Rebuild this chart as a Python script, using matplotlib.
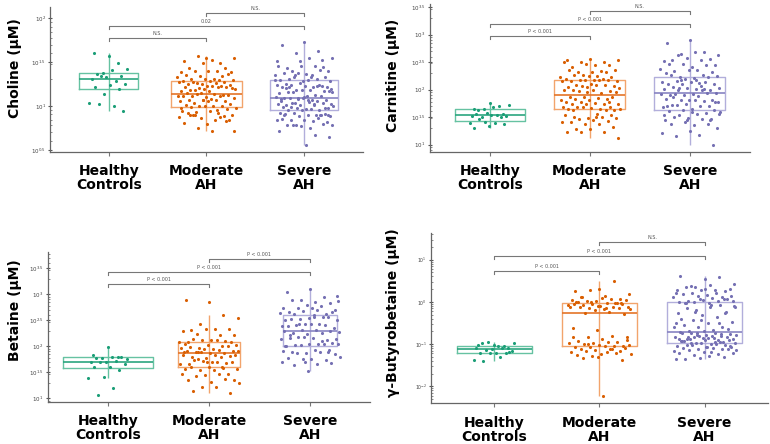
import matplotlib
matplotlib.use("Agg")
import matplotlib.pyplot as plt
import matplotlib.ticker as mticker
from matplotlib import cbook
import numpy as np

# ---- data (log10 of concentration in uM) ----
groups = ["Healthy\nControls", "Moderate\nAH", "Severe\nAH"]

choline_healthy = [1.572, 1.602, 1.489, 1.371, 1.420, 1.409, 1.367, 1.341, 1.330, 1.307, 1.280,
                   1.345, 1.250, 1.242, 1.216, 1.197, 1.133, 1.034, 1.004, 1.019, 0.939]
choline_moderate = [1.545, 1.515, 1.489, 1.564, 1.545, 1.527, 1.432, 1.432, 1.489, 1.383, 1.394,
                    1.394, 1.383, 1.402, 1.356, 1.345, 1.337, 1.326, 1.307, 1.307, 1.367, 1.307,
                    1.280, 1.292, 1.261, 1.299, 1.280, 1.254, 1.273, 1.254, 1.277, 1.261, 1.269,
                    1.242, 1.231, 1.216, 1.231, 1.205, 1.193, 1.223, 1.186, 1.216, 1.193, 1.174,
                    1.216, 1.186, 1.205, 1.167, 1.148, 1.129, 1.148, 1.117, 1.140, 1.110, 1.129,
                    1.102, 1.110, 1.117, 1.140, 1.091, 1.080, 1.072, 1.053, 1.072, 1.053, 1.072,
                    1.034, 1.027, 1.053, 1.015, 0.996, 1.004, 0.977, 1.004, 0.989, 0.966, 1.004,
                    0.939, 0.920, 0.928, 0.902, 0.939, 0.920, 0.883, 0.864, 0.875, 0.845, 0.902,
                    0.845, 0.799, 0.807, 0.875, 0.750, 0.712, 0.712, 0.902, 0.826, 1.072, 0.977,
                    0.958, 0.902]
choline_severe = [1.723, 1.697, 1.621, 1.602, 1.545, 1.545, 1.432, 1.439, 1.451, 1.451, 1.451,
                  1.394, 1.394, 1.367, 1.375, 1.405, 1.375, 1.356, 1.330, 1.307, 1.330, 1.280,
                  1.299, 1.307, 1.330, 1.280, 1.299, 1.254, 1.231, 1.261, 1.242, 1.216, 1.242,
                  1.216, 1.231, 1.216, 1.242, 1.186, 1.155, 1.178, 1.155, 1.167, 1.186, 1.148,
                  1.129, 1.155, 1.167, 1.110, 1.091, 1.110, 1.080, 1.102, 1.072, 1.091, 1.072,
                  1.102, 1.080, 1.053, 1.034, 1.027, 1.042, 1.015, 1.034, 1.011, 1.027, 1.015,
                  1.034, 0.977, 0.966, 0.989, 0.958, 0.977, 0.996, 0.966, 0.951, 0.977, 0.958,
                  0.920, 0.902, 0.920, 0.883, 0.902, 0.913, 0.902, 0.883, 0.845, 0.826, 0.845,
                  0.814, 0.837, 0.852, 0.864, 0.788, 0.777, 0.750, 0.788, 0.799, 0.769, 0.712,
                  0.674, 0.788, 0.648, 0.553, 0.902, 0.902, 1.091, 1.299, 1.356, 1.216, 0.913,
                  1.091, 1.053, 1.223, 1.356, 1.193, 1.072, 1.205, 1.527, 1.508, 1.508, 1.027,
                  0.989, 0.902]

carnitine_healthy = [1.764, 1.655, 1.697, 1.655, 1.715, 1.685, 1.624, 1.564, 1.576, 1.515, 1.539,
                     1.503, 1.521, 1.545, 1.564, 1.503, 1.412, 1.400, 1.400, 1.461, 1.370, 1.333,
                     1.309]
carnitine_moderate = [2.564, 2.533, 2.503, 2.503, 2.533, 2.442, 2.412, 2.442, 2.473, 2.503, 2.333,
                      2.321, 2.352, 2.321, 2.352, 2.321, 2.261, 2.230, 2.242, 2.261, 2.230, 2.242,
                      2.200, 2.200, 2.170, 2.158, 2.170, 2.158, 2.182, 2.170, 2.152, 2.170, 2.079,
                      2.061, 2.097, 2.048, 2.079, 2.061, 2.036, 2.079, 1.988, 1.976, 1.958, 1.988,
                      1.939, 1.976, 1.958, 1.988, 1.867, 1.836, 1.867, 1.818, 1.855, 1.836, 1.867,
                      1.806, 1.776, 1.745, 1.776, 1.733, 1.758, 1.745, 1.776, 1.733, 1.685, 1.655,
                      1.685, 1.636, 1.673, 1.655, 1.624, 1.685, 1.655, 1.564, 1.503, 1.533, 1.491,
                      1.533, 1.503, 1.473, 1.491, 1.442, 1.412, 1.430, 1.382, 1.412, 1.370, 1.291,
                      1.321, 1.291, 1.230, 1.230, 1.230, 1.127, 1.503, 1.624, 1.685, 2.048]
carnitine_severe = [2.897, 2.848, 2.685, 2.642, 2.624, 2.685, 2.533, 2.564, 2.582, 2.521, 2.533,
                    2.624, 2.442, 2.412, 2.461, 2.442, 2.473, 2.382, 2.352, 2.339, 2.321, 2.352,
                    2.303, 2.261, 2.230, 2.242, 2.218, 2.261, 2.230, 2.200, 2.139, 2.121, 2.158,
                    2.109, 2.139, 2.097, 2.139, 2.109, 2.036, 2.018, 2.048, 2.000, 2.036, 2.018,
                    1.988, 2.036, 1.939, 1.915, 1.897, 1.939, 1.897, 1.927, 1.879, 1.915, 1.818,
                    1.806, 1.836, 1.794, 1.818, 1.776, 1.806, 1.715, 1.697, 1.733, 1.685, 1.697,
                    1.715, 1.624, 1.594, 1.612, 1.576, 1.624, 1.594, 1.564, 1.503, 1.473, 1.491,
                    1.442, 1.473, 1.533, 1.309, 1.352, 1.382, 1.370, 1.412, 1.212, 1.170, 1.152,
                    0.988, 1.248, 1.697, 2.018, 2.170, 1.564, 2.170, 1.867, 1.442, 1.442, 1.533,
                    2.061, 1.988, 1.776, 1.655]

betaine_healthy = [1.990, 1.831, 1.799, 1.786, 1.767, 1.799, 1.786, 1.799, 1.703, 1.703, 1.722,
                   1.703, 1.671, 1.607, 1.607, 1.543, 1.415, 1.403, 1.192, 1.064]
betaine_moderate = [2.853, 2.885, 2.597, 2.425, 2.553, 2.342, 2.310, 2.342, 2.342, 2.297, 2.214,
                    2.233, 2.214, 2.118, 2.086, 2.105, 2.131, 2.086, 2.118, 2.150, 2.086, 2.022,
                    2.042, 2.003, 1.978, 2.022, 1.958, 1.990, 2.003, 1.958, 1.978, 1.927, 1.895,
                    1.914, 1.875, 1.914, 1.875, 1.895, 1.914, 1.831, 1.799, 1.812, 1.786, 1.831,
                    1.799, 1.767, 1.831, 1.703, 1.671, 1.684, 1.722, 1.671, 1.703, 1.735, 1.703,
                    1.607, 1.575, 1.594, 1.543, 1.575, 1.556, 1.607, 1.479, 1.447, 1.466, 1.479,
                    1.428, 1.351, 1.319, 1.364, 1.383, 1.224, 1.288, 1.224, 1.147, 1.096, 1.703,
                    1.895, 1.607, 1.895]
betaine_severe = [3.109, 3.045, 2.949, 2.885, 2.872, 2.853, 2.885, 2.834, 2.789, 2.744, 2.770,
                  2.744, 2.706, 2.744, 2.661, 2.629, 2.681, 2.642, 2.693, 2.617, 2.661, 2.553,
                  2.514, 2.565, 2.534, 2.514, 2.565, 2.534, 2.565, 2.425, 2.387, 2.438, 2.406,
                  2.361, 2.425, 2.387, 2.406, 2.310, 2.278, 2.323, 2.259, 2.297, 2.246, 2.297,
                  2.259, 2.182, 2.150, 2.169, 2.214, 2.131, 2.182, 2.150, 2.054, 2.022, 2.067,
                  2.042, 2.003, 2.054, 2.022, 2.042, 1.927, 1.895, 1.927, 1.875, 1.914, 1.895,
                  1.875, 1.863, 1.767, 1.786, 1.748, 1.767, 1.799, 1.671, 1.639, 1.684, 1.530,
                  2.003, 2.105, 2.438, 2.962, 2.597, 2.169, 1.895, 1.703, 1.703]

gbb_healthy = [-1.016, -1.032, -1.048, -0.952, -0.968, -1.048, -0.968, -1.103, -1.111, -1.095,
               -1.095, -1.143, -1.159, -1.222, -1.222, -1.206, -1.206, -1.381, -1.317, -1.397,
               -1.183]
gbb_moderate = [0.302, 0.246, 0.484, 0.286, 0.190, 0.143, 0.111, 0.063, 0.032, 0.048, 0.063,
                0.032, 0.048, 0.087, 0.008, -0.032, -0.048, -0.071, -0.032, -0.079, -0.048,
                -0.095, -0.048, -0.127, -0.151, -0.127, -0.175, -0.127, -0.151, -0.190, -0.111,
                -0.230, -0.254, -0.286, -0.095, 0.008, -0.016, 0.008, -0.175, -0.151, 0.111,
                -0.032,
                -0.667, -0.627, -0.810, -0.841, -0.825, -0.889, -0.921, -0.944, -0.968, -0.984,
                -0.944, -1.000, -1.048, -1.024, -1.063, -1.048, -1.063, -1.024, -1.048, -1.127,
                -1.159, -1.143, -1.183, -1.127, -1.159, -1.103, -1.238, -1.262, -1.222, -1.286,
                -1.238, -1.183, -1.341, -1.381, -1.317, -0.841, -1.127, -1.000, -0.905, -2.230]
gbb_severe = [0.540, 0.619, 0.587, 0.349, 0.429, 0.405, 0.349, 0.246, 0.286, 0.270, 0.222,
              0.206, 0.143, 0.167, 0.190, 0.127, 0.143, 0.127, 0.087, 0.032, 0.064, 0.048,
              0.008, 0.032, 0.008, 0.032, -0.032, -0.032, 0.064, 0.064, 0.206, 0.270, 0.381,
              0.302, 0.302,
              -0.413, -0.071, -0.190, -0.111, -0.071, -0.151, -0.230, -0.310, -0.270, -0.349,
              -0.429, -0.468, -0.492, -0.548, -0.587, -0.603, -0.603, -0.667, -0.683, -0.651,
              -0.683, -0.706, -0.508, -0.230, -0.095, -0.111, -0.032, -0.270, -0.429, -0.508,
              -0.730, -0.746, -0.762, -0.786, -0.730, -0.762, -0.746, -0.786, -0.810, -0.825,
              -0.841, -0.865, -0.889, -0.905, -0.841, -0.889, -0.865, -0.921, -0.944, -0.810,
              -0.825, -0.857, -0.873, -0.897, -0.913, -0.937, -0.952, -0.968, -0.984, -1.000,
              -1.016, -1.024, -0.984, -1.048, -1.000, -1.024, -1.063, -1.079, -1.095, -1.111,
              -1.127, -1.159, -1.103, -1.143, -1.127, -1.183, -1.206, -1.238, -1.262, -1.222,
              -1.286, -1.365, -1.317, -1.341, -1.365, -0.960, -0.976, -1.040, -1.071, -0.920,
              -0.800, -0.780, -1.150, -1.190, -0.880]

# pairwise comparison labels: (group a, group b, label)
choline_tests = [(0, 1, "N.S."), (0, 2, "0.02"), (1, 2, "N.S.")]
carnitine_tests = [(0, 1, "P < 0.001"), (0, 2, "P < 0.001"), (1, 2, "N.S.")]
betaine_tests = [(0, 1, "P < 0.001"), (0, 2, "P < 0.001"), (1, 2, "P < 0.001")]
gbb_tests = [(0, 1, "P < 0.001"), (0, 2, "P < 0.001"), (1, 2, "N.S.")]

dot_colors = ["#1b9e77", "#d95f02", "#7570b3"]
box_colors = ["#66c2a2", "#f2a46c", "#b2aedb"]
med_colors = ["#2ba57f", "#e47428", "#8884c2"]
jitter_half = [0.2, 0.3, 0.3]


def draw_panel(ax, data, widths, ylog, ticks, brackets_y, tests, tick_size=4.0):
    for i, vals in enumerate(data):
        lv = np.array(vals)
        st = cbook.boxplot_stats(lv, whis=1.5)[0]
        for k in ("med", "q1", "q3", "whislo", "whishi"):
            st[k] = 10 ** st[k]
        st["fliers"] = []
        ax.vlines(i, st["whislo"], st["whishi"], color=box_colors[i], lw=1.0, zorder=2)
        ax.bxp([st], positions=[i], widths=widths[i], showfliers=False,
               showcaps=False, manage_ticks=False,
               boxprops=dict(color=box_colors[i], lw=1.0),
               medianprops=dict(color=med_colors[i], lw=1.2),
               whiskerprops=dict(lw=0))
        # deterministic spread of the dots around the group centre
        n = len(lv)
        off = ((0.5 + np.arange(n) * 0.618034) % 1.0 - 0.5) * 2 * jitter_half[i]
        ax.scatter(i + off, 10 ** lv, s=5, color=dot_colors[i], lw=0, zorder=3)

    ax.set_yscale("log")
    ax.set_ylim(10 ** ylog[0], 10 ** ylog[1])
    ax.set_xlim(-0.6, 2.6)
    ax.yaxis.set_major_locator(mticker.FixedLocator([10 ** t for t in ticks]))
    ax.yaxis.set_major_formatter(mticker.FixedFormatter(["$10^{%g}$" % t for t in ticks]))
    ax.yaxis.set_minor_locator(mticker.LogLocator(subs=np.arange(2, 10), numticks=20))
    ax.yaxis.set_minor_formatter(mticker.NullFormatter())
    ax.tick_params(axis="y", which="major", labelsize=tick_size, length=3, direction="inout",
                   color="#555555", labelcolor="#444444", pad=1.5)
    ax.tick_params(axis="y", which="minor", length=1.5, direction="in", color="#777777")
    ax.set_xticks([0, 1, 2])
    ax.set_xticklabels(groups, fontsize=10, fontweight="bold", linespacing=1.0)
    ax.tick_params(axis="x", length=3, color="#777777", pad=6)
    for s in ("top", "right"):
        ax.spines[s].set_visible(False)
    for s in ("left", "bottom"):
        ax.spines[s].set_color("#666666")
        ax.spines[s].set_linewidth(0.9)

    # comparison brackets
    h_px = ax.get_position().height * fig.get_figheight() * fig.dpi
    drop = 10 ** (-(ylog[1] - ylog[0]) * 3.0 / h_px)
    for (a, b, lab), yb in zip(tests, brackets_y):
        y = 10 ** yb
        ax.plot([a, a, b, b], [y * drop, y, y, y * drop], color="#777777", lw=0.8, zorder=4)
        ax.annotate(lab, ((a + b) / 2, y), xytext=(0, 1.5), textcoords="offset points",
                    ha="center", va="bottom", fontsize=3.5, color="#555555")


fig = plt.figure(figsize=(7.7, 4.44), dpi=100)
fig.set_facecolor("w")

ax1 = fig.add_axes([0.065, 0.658, 0.406, 0.326])
ax2 = fig.add_axes([0.558, 0.658, 0.416, 0.333])
ax3 = fig.add_axes([0.062, 0.095, 0.419, 0.337])
ax4 = fig.add_axes([0.560, 0.092, 0.437, 0.383])

draw_panel(ax1, [choline_healthy, choline_moderate, choline_severe], [0.6, 0.72, 0.7],
           (0.477, 2.125), [0.5, 1, 1.5, 2], [1.777, 1.913, 2.057], choline_tests)
draw_panel(ax2, [carnitine_healthy, carnitine_moderate, carnitine_severe], [0.7, 0.71, 0.71],
           (0.867, 3.56), [1, 1.5, 2, 2.5, 3, 3.5], [2.97, 3.2, 3.44], carnitine_tests)
draw_panel(ax3, [betaine_healthy, betaine_moderate, betaine_severe], [0.89, 0.62, 0.53],
           (0.936, 3.81), [1, 1.5, 2, 2.5, 3, 3.5], [3.19, 3.43, 3.67], betaine_tests)
draw_panel(ax4, [gbb_healthy, gbb_moderate, gbb_severe], [0.71, 0.71, 0.71],
           (-2.40, 1.63), [-2, -1, 0, 1], [0.74, 1.08, 1.41], gbb_tests, tick_size=3.3)

fig.text(0.0195, 0.847, "Choline (\u00b5M)", rotation=90, ha="center", va="center",
         fontsize=10, fontweight="bold")
fig.text(0.510, 0.831, "Carnitine (\u00b5M)", rotation=90, ha="center", va="center",
         fontsize=10, fontweight="bold")
fig.text(0.0195, 0.302, "Betaine (\u00b5M)", rotation=90, ha="center", va="center",
         fontsize=10, fontweight="bold")
fig.text(0.510, 0.295, "\u03b3-Butyrobetaine (\u00b5M)", rotation=90, ha="center", va="center",
         fontsize=10, fontweight="bold")

plt.savefig("out.png", dpi=100)
